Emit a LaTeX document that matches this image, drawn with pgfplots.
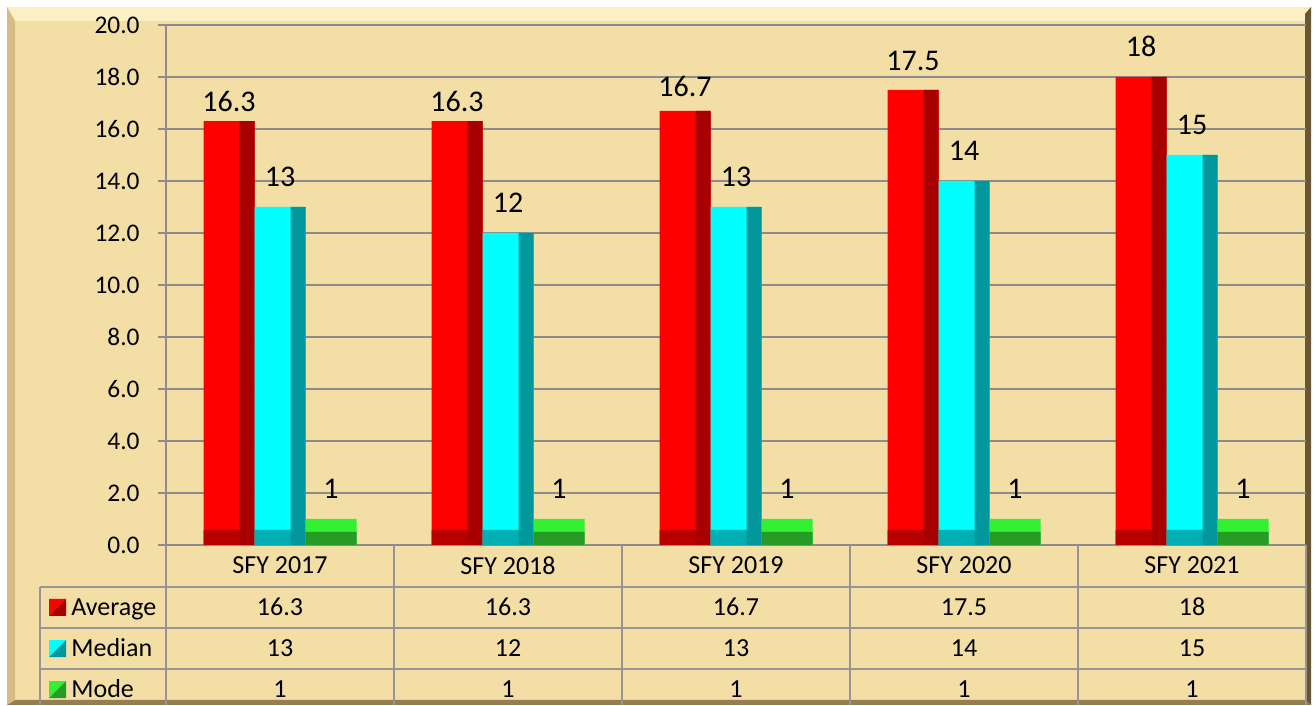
\documentclass[border=0pt]{standalone}
\usepackage{fontspec}
\setmainfont{Carlito}
\usepackage{pgfplots}
\pgfplotsset{compat=1.18}
\usepackage{pgfplotstable}

\definecolor{bg}{RGB}{243,223,166}
\definecolor{bevtop}{RGB}{251,240,196}
\definecolor{bevleft}{RGB}{214,188,132}
\definecolor{bevright}{RGB}{105,86,52}
\definecolor{bevbot}{RGB}{150,126,80}
\definecolor{gridc}{RGB}{140,140,140}
\definecolor{tablec}{RGB}{150,150,150}
\definecolor{redF}{RGB}{255,0,0}
\definecolor{redD}{RGB}{168,0,0}
\definecolor{redB}{RGB}{185,0,0}
\definecolor{cyanF}{RGB}{0,255,255}
\definecolor{cyanD}{RGB}{0,152,156}
\definecolor{cyanB}{RGB}{0,175,180}
\definecolor{greenF}{RGB}{50,240,50}
\definecolor{greenD}{RGB}{38,155,38}

\pgfplotstableread{
x avg off
0 16.3 4.5
1 16.3 4.5
2 16.7 7
3 17.5 9.5
4 18 10
}\avgdata
\pgfplotstableread{
x med
0 13
1 12
2 13
3 14
4 15
}\meddata
\pgfplotstableread{
x mode
0 1
1 1
2 1
3 1
4 1
}\modedata
\pgfplotstableread{
x base half
0 0.58 0.5
1 0.58 0.5
2 0.58 0.5
3 0.58 0.5
4 0.58 0.5
}\bevdata

\begin{document}
\begin{tikzpicture}
% page and frame
\fill[white] (0,0) rectangle (656.5pt,353pt);
\fill[bg] (3.5pt,0.5pt) rectangle (655.5pt,349.5pt);
\fill[bevtop] (3.5pt,349.5pt) -- (655.5pt,349.5pt) -- (652.5pt,342.5pt) -- (7.5pt,342.5pt) -- cycle;
\fill[bevleft] (3.5pt,0.5pt) -- (3.5pt,349.5pt) -- (7.5pt,342.5pt) -- (7.5pt,3.5pt) -- cycle;
\fill[bevright] (655.5pt,0.5pt) -- (655.5pt,349.5pt) -- (652.5pt,346pt) -- (652.5pt,3pt) -- cycle;
\fill[bevbot] (3.5pt,0.5pt) -- (655.5pt,0.5pt) -- (652.5pt,3pt) -- (7.5pt,3pt) -- cycle;

\begin{axis}[
  at={(83pt,80.5pt)}, anchor=south west,
  width=570pt, height=260pt, scale only axis,
  xmin=-0.5, xmax=4.5, ymin=0, ymax=20,
  clip=false,
  axis y line=left, axis x line=bottom,
  axis line style={gridc, line width=0.8pt, -},
  ytick={0,2,...,20},
  ymajorgrids, grid style={gridc, line width=0.8pt},
  tick align=outside, major tick length=4pt,
  ytick style={gridc, line width=0.8pt},
  /pgf/number format/assume math mode=true,
  yticklabel style={/pgf/number format/fixed, /pgf/number format/fixed zerofill,
    /pgf/number format/precision=1, font=\fontsize{12.7}{15}\selectfont,
    anchor=east, inner sep=0pt, xshift=-9pt},
  xtick={0,1,2,3,4},
  xticklabels={SFY 2017,SFY 2018,SFY 2019,SFY 2020,SFY 2021},
  x tick style={draw=none},
  xticklabel style={anchor=center, inner sep=0pt, yshift=-6.25pt,
    font=\fontsize{13}{15}\selectfont},
  every node near coord/.append style={font=\fontsize{15}{18}\selectfont,
    inner sep=0pt, anchor=south},
]
% Average
\addplot[ybar, bar width=25.5pt, bar shift=-25.5pt, fill=redF, draw=none,
  nodes near coords,
  visualization depends on={\thisrow{off} \as \labeloff},
  nodes near coords style={xshift=-25.5pt, yshift=\labeloff pt}]
  table[x=x, y=avg] {\avgdata};
\addplot[ybar, bar width=25.5pt, bar shift=-25.5pt, fill=redB, draw=none]
  table[x=x, y=base] {\bevdata};
\addplot[ybar, bar width=7.5pt, bar shift=-16.5pt, fill=redD, draw=none]
  table[x=x, y=avg] {\avgdata};
% Median
\addplot[ybar, bar width=25.5pt, bar shift=0pt, fill=cyanF, draw=none,
  nodes near coords, nodes near coords style={yshift=10pt}]
  table[x=x, y=med] {\meddata};
\addplot[ybar, bar width=25.5pt, bar shift=0pt, fill=cyanB, draw=none]
  table[x=x, y=base] {\bevdata};
\addplot[ybar, bar width=7.5pt, bar shift=9pt, fill=cyanD, draw=none]
  table[x=x, y=med] {\meddata};
% Mode
\addplot[ybar, bar width=25.5pt, bar shift=25.5pt, fill=greenF, draw=none,
  nodes near coords, nodes near coords style={xshift=25.5pt, yshift=10pt}]
  table[x=x, y=mode] {\modedata};
\addplot[ybar, bar width=25.5pt, bar shift=25.5pt, fill=greenD, draw=none]
  table[x=x, y=half] {\bevdata};
\end{axis}

% data table
\begin{scope}[tablec, line width=0.7pt]
\draw (20pt,59.5pt) -- (653pt,59.5pt);
\draw (20pt,39pt) -- (653pt,39pt);
\draw (20pt,18.5pt) -- (653pt,18.5pt);
\draw (20pt,59.5pt) -- (20pt,0.5pt);
\foreach \xx in {83,197,311,425,539,653} \draw (\xx pt,80.5pt) -- (\xx pt,0.5pt);
\end{scope}

\newcommand{\tkey}[3]{%
  \fill[#2] (24.5pt,#1pt-4.25pt) -- (24.5pt,#1pt+4.25pt) -- (33pt,#1pt+4.25pt) -- cycle;
  \fill[#3] (24.5pt,#1pt-4.25pt) -- (33pt,#1pt-4.25pt) -- (33pt,#1pt+4.25pt) -- cycle;}
\tkey{49.3}{redF}{redD}
\tkey{28.7}{cyanF}{cyanD}
\tkey{8.2}{greenF}{greenD}

\begin{scope}[every node/.style={inner sep=0pt, font=\fontsize{13}{15}\selectfont}]
\node[anchor=base west] at (35.5pt,45.1pt) {Average};
\node[anchor=base west] at (35.5pt,24.5pt) {Median};
\node[anchor=base west] at (35.5pt,4pt) {Mode};
\foreach \xc/\va/\vm/\vo in {140/16.3/13/1,254/16.3/12/1,368/16.7/13/1,482/17.5/14/1,596/18/15/1}{
  \node[anchor=base] at (\xc pt,45.1pt) {\va};
  \node[anchor=base] at (\xc pt,24.5pt) {\vm};
  \node[anchor=base] at (\xc pt,4pt) {\vo};
}
\end{scope}
\end{tikzpicture}
\end{document}
